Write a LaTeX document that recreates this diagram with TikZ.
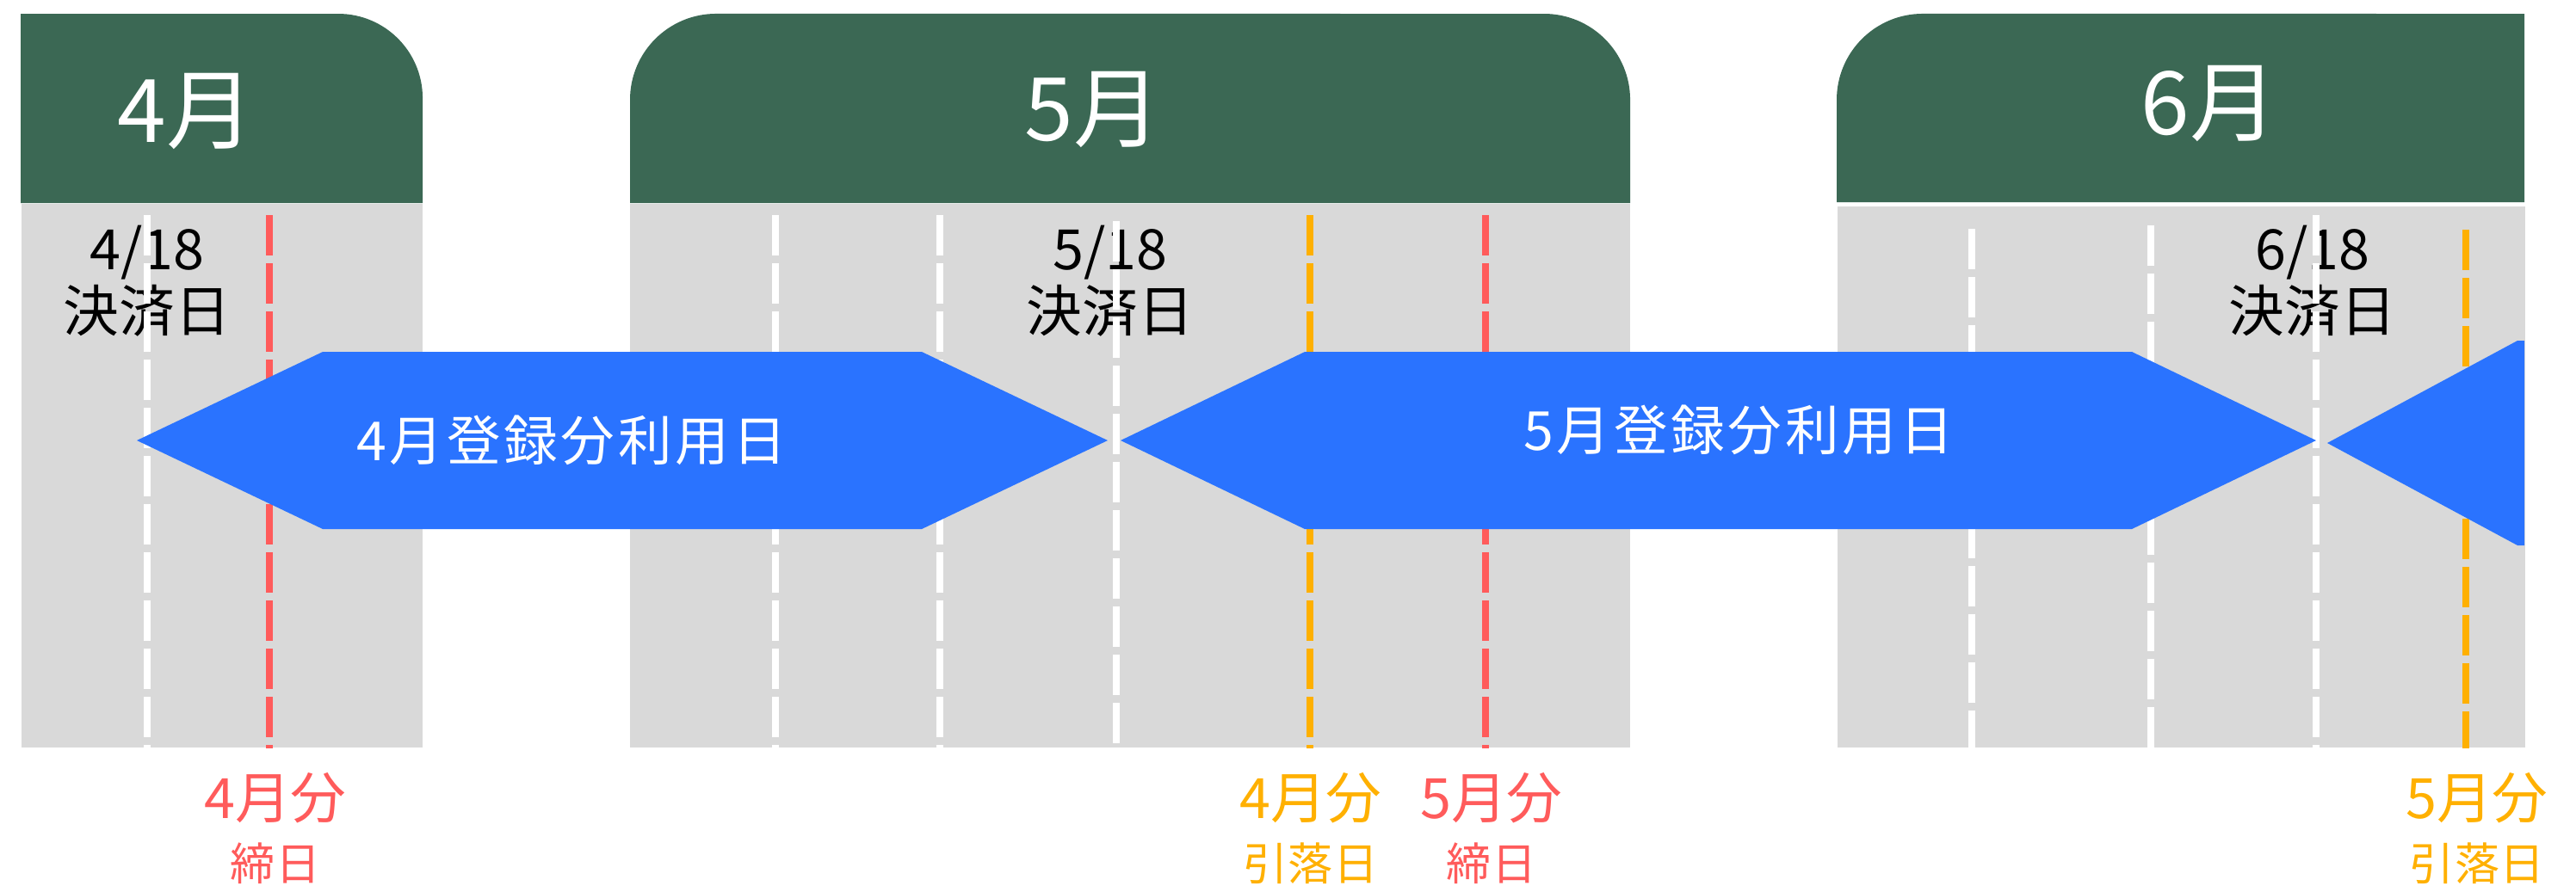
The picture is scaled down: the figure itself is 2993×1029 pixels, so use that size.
\documentclass[tikz,border=0pt]{standalone}
\usepackage{fontspec}
\setmainfont{Noto Sans CJK JP}
\newfontfamily\wideJP[LetterSpace=6]{Noto Sans CJK JP}
\usepackage{xcolor}
\definecolor{hdrGreen}{HTML}{3B6854}
\definecolor{bodyGray}{HTML}{D9D9D9}
\definecolor{useBlue}{HTML}{2A73FF}
\definecolor{cutRed}{HTML}{FF5B5B}
\definecolor{payOrange}{HTML}{FFB000}

\begin{document}
\begin{tikzpicture}[
    x=0.01cm, y=-0.01cm,
    hdr/.style={fill=hdrGreen},
    body/.style={
        rectangle,
        fill=bodyGray,
        anchor=north west,
        inner sep=0,
        minimum height=6.32cm,
      },
    month/.style={text=white, inner sep=0, font=\fontsize{29}{32}\selectfont},
    wline/.style={line width=0.08cm, draw=white, dash pattern=on 0.47cm off 0.09cm},
    rline/.style={wline, draw=cutRed},
    oline/.style={wline, draw=payOrange},
    span/.style={fill=useBlue},
    spantxt/.style={text=white, inner sep=0, font=\wideJP\fontsize{17.8}{20.5}\selectfont},
    settle/.style={align=center, inner sep=0, font=\fontsize{18.4}{20.5}\selectfont},
    due/.style={align=center, inner sep=0, font=\fontsize{18.4}{20.5}\selectfont},
  ]
  \useasboundingbox (0,0) rectangle (2993,1029);

  % month bodies
  \node[body, minimum width=4.66cm] (g4) at (24,236) {};
  \node[body, minimum width=11.62cm] (g5) at (731,236) {};
  \node[body, minimum width=7.99cm, minimum height=6.29cm] (g6) at (2134,239) {};

  % month headers
  \fill[hdr] (24,236) -- (24,16) -- (393,16) arc[start angle=90, end angle=0, radius=0.98cm] -- (491,236) -- cycle;
  \fill[hdr] (732,236) -- (732,116) arc[start angle=180, end angle=90, radius=1cm]
    -- (1794,16) arc[start angle=90, end angle=0, radius=1cm] -- (1894,236) -- cycle;
  \fill[hdr] (2134,235) -- (2134,116) arc[start angle=180, end angle=90, radius=1cm] -- (2933,16) -- (2933,235) -- cycle;

  \node[month] (m4) at (216,129) {4月};
  \node[month] (m5) at (1270,127) {5月};
  \node[month] (m6) at (2567,120) {6月};

  \node[settle] (d4) at (171,327) {4/18\\決済日};
  \node[settle] (d5) at (1290,327) {5/18\\決済日};
  \node[settle] (d6) at (2687,327) {6/18\\決済日};

  % day lines
  \draw[wline] (171,250) -- (171,250 |- g4.south);
  \draw[rline] (313,250) -- (313,250 |- g4.south);
  \draw[wline] (901,250) -- (901,250 |- g5.south);
  \draw[wline] (1092,250) -- (1092,250 |- g5.south);
  \draw[wline] (1297,257) -- (1297,257 |- g5.south);
  \draw[oline] (1522,250) -- (1522,250 |- g5.south);
  \draw[rline] (1726,250) -- (1726,250 |- g5.south);
  \draw[wline] (2291,266) -- (2291,266 |- g6.south);
  \draw[wline] (2499,262) -- (2499,262 |- g6.south);
  \draw[wline] (2691,250) -- (2691,250 |- g6.south);
  \draw[oline] (2865,267) -- (2865,267 |- g6.south);

  % usage periods
  \fill[span] (159,512) -- (375,409) -- (1071,409) -- (1287,512) -- (1071,615) -- (375,615) -- cycle;
  \fill[span] (1302,512) -- (1516,409) -- (2477,409) -- (2691,512) -- (2477,615) -- (1516,615) -- cycle;
  \fill[span] (2704,515) -- (2925,396) -- (2933,396) -- (2933,634) -- (2925,634) -- cycle;

  \node[spantxt] (use4) at (664,512) {4月登録分利用日};
  \node[spantxt] (use5) at (2020,500) {5月登録分利用日};

  % closing / payment days
  \node[due, text=cutRed] (cut4) at (320,963) {4月分\\{\fontsize{14.8}{20.5}\selectfont 締日}};
  \node[due, text=payOrange] (pay4) at (1523,963) {4月分\\{\fontsize{14.8}{20.5}\selectfont 引落日}};
  \node[due, text=cutRed] (cut5) at (1733,963) {5月分\\{\fontsize{14.8}{20.5}\selectfont 締日}};
  \node[due, text=payOrange] (pay5) at (2878,963) {5月分\\{\fontsize{14.8}{20.5}\selectfont 引落日}};
\end{tikzpicture}
\end{document}
